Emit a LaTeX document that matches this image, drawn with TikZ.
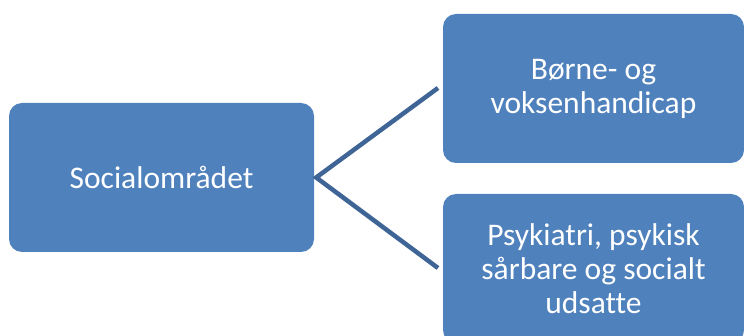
\documentclass[tikz,border=0pt]{standalone}
\usepackage{fontspec}
\setmainfont[Ligatures=NoCommon]{Carlito}
\definecolor{boxblue}{HTML}{4F81BD}
\definecolor{lineblue}{HTML}{3F6596}
\begin{document}
\begin{tikzpicture}[x=1pt,y=-1pt,
  box/.style={rectangle, rounded corners=13pt, fill=boxblue, draw=none,
    text=white, align=center, inner sep=0pt, minimum width=301pt, minimum height=149pt,
    font=\fontsize{31.5}{34}\selectfont},
  conn/.style={draw=lineblue, line width=4.5pt}]
\useasboundingbox (0,0) rectangle (744,336);
\clip (0,0) rectangle (744,336);
\node[box, minimum width=305pt] (root) at (161.5,177.5) {Socialområdet};
\node[box] (a) at (593.5,88.5) {Børne- og\\voksenhandicap};
\node[box] (b) at (593.5,268.5) {Psykiatri, psykisk\\sårbare og socialt\\udsatte};
\coordinate (ea) at (438,88);
\coordinate (eb) at (438,268);
\draw[conn] (ea) -- ([xshift=2pt]root.east) -- (eb);
\end{tikzpicture}
\end{document}
